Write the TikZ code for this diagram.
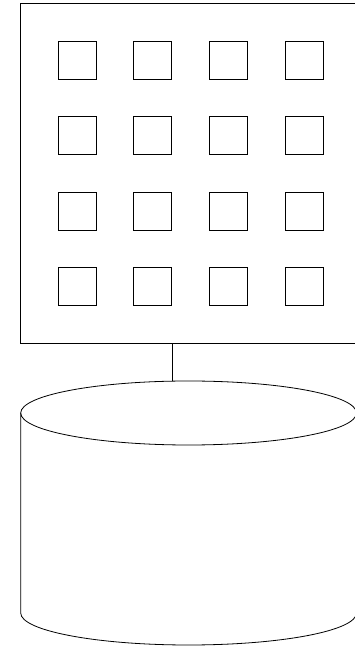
\documentclass[tikz,border=0pt]{standalone}
\begin{document}
\begin{tikzpicture}[x=1pt,y=1pt,
  line/.style={draw=black,line width=0.8pt},
  cell/.style={line,minimum width=38pt,minimum height=38pt,inner sep=0pt,outer sep=0pt},
  panel/.style={line,minimum width=340pt,minimum height=340pt,inner sep=0pt,outer sep=0pt}]
\useasboundingbox (0,0) rectangle (355,646);
\clip (0,0) rectangle (355,646);
\node[panel] (panel) at (190.7,472.7) {};
\foreach \c [count=\i] in {77,152.7,228.4,304.1}{
  \foreach \r [count=\j] in {586,510.5,434.7,359.5}{
    \node[cell] (cell-\j-\i) at (\c,\r) {};
  }
}
% cylinder
\coordinate (cylc) at (188.6,233);
\coordinate (cyltop) at (172,264.9);
\draw[line] (cylc) ellipse [x radius=167.9, y radius=32];
\draw[line] (20.7,233) -- (20.7,33) arc[start angle=180,end angle=360,x radius=167.9,y radius=32] -- (356.5,233);
\draw[line] (panel.south -| cyltop) -- (cyltop);
\end{tikzpicture}
\end{document}
